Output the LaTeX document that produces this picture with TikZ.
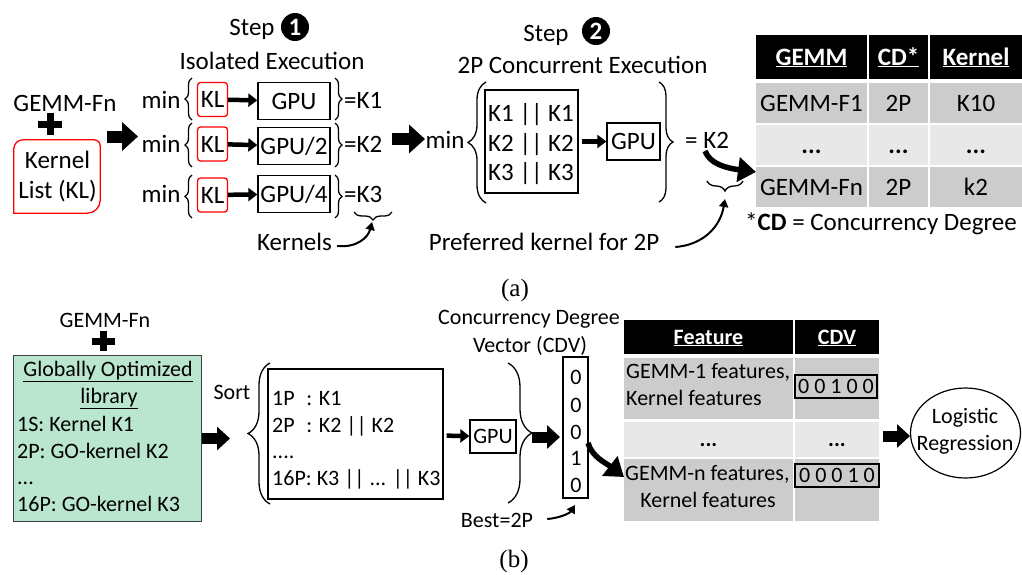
\documentclass[tikz,border=0pt]{standalone}
\usepackage{fontspec}
\setmainfont{Carlito}
\newfontfamily\serf{Liberation Serif}
\usetikzlibrary{arrows.meta,decorations.pathreplacing,shapes.geometric}
\newcommand\fa{\fontsize{25}{31}\selectfont}
\newcommand\fb{\fontsize{22}{27}\selectfont}
\definecolor{gD}{HTML}{CCCCCC}
\definecolor{gL}{HTML}{E8E8E8}
\definecolor{grn}{HTML}{BAE6CF}
\definecolor{bord}{HTML}{3F3F3F}
\begin{document}
\begin{tikzpicture}[x=1pt,y=-1pt,
  ta/.style={inner sep=0pt,font=\fa,text height=16pt,text depth=0pt},
  tb/.style={inner sep=0pt,font=\fb,text height=14pt,text depth=0pt},
  bx/.style={draw=black,line width=1.3pt,inner sep=0pt,font=\fa,text height=16pt,text depth=0pt},
  bxb/.style={draw=black,line width=1.3pt,inner sep=0pt,font=\fb,text height=14pt,text depth=0pt},
  rbx/.style={draw=red,line width=1.3pt,rounded corners=3pt,inner sep=0pt,font=\fa,text height=16pt,text depth=0pt,minimum width=30pt,minimum height=34pt},
  cella/.style={inner sep=0pt,text height=16pt,text depth=0pt},
  cellb/.style={inner sep=0pt,text height=14pt,text depth=0pt},
  hda/.style={cella,fill=black,text=white,font=\fa\bfseries},
  hdb/.style={cellb,fill=black,text=white,font=\fb\bfseries},
  blk/.style={line width=12pt,-{Triangle[length=16pt,width=28pt]}},
  blkb/.style={line width=11pt,-{Triangle[length=13pt,width=23pt]}},
  sml/.style={line width=4.5pt,-{Triangle[length=9pt,width=13pt]}},
  crv/.style={line width=2pt,-{Triangle[length=8pt,width=9pt]}},
  thk/.style={line width=5.5pt,-{Triangle[length=18pt,width=24pt]}},
  brc/.style={decorate,decoration={brace,amplitude=#1},line width=1.3pt},
  circ/.style={circle,fill=black,text=white,minimum size=28pt,inner sep=0pt,font=\fa\bfseries,text height=16pt,text depth=0pt}
]
\fill[white] (0,0) rectangle (1022,574);
\useasboundingbox (0,0) rectangle (1022,574);

% ================= (a) =================
\node[ta] (gemmA) at (65,103.5) {GEMM-Fn};
\fill (38,120.5) rectangle (62,128);
\fill (46.5,113) rectangle (54,135);
\node[minimum width=86pt,minimum height=73pt,inner sep=0pt] (kl) at (57,176.5) {};
\draw[red,line width=1.3pt] (kl.south west) [rounded corners=9pt] -- (kl.north west) [rounded corners=6pt] -- (kl.north east) [rounded corners=13pt] -- (kl.south east) [sharp corners] -- cycle;
\node[ta] (klt1) at (57.5,160) {Kernel};
\node[ta] (klt2) at (57.5,190.5) {List (KL)};

\coordinate (a1s) at (107,136.5);
\coordinate (a1e) at (138,136.5);
\draw[blk] (a1s) -- (a1e);

\node[ta] (step1) at (252,27.5) {Step};
\node[circ] (c1) at (295,27) {1};
\node[ta] (iso) at (272,61) {Isolated Execution};

% row 1
\node[ta] (min1) at (161,100) {min};
\draw[brc=7] (192,120) -- (192,78);
\node[rbx] (kl1) at (212.5,99.5) {KL};
\node[bx,minimum width=72pt,minimum height=37pt] (gpu1) at (294,101) {GPU};
\draw[sml] (kl1) -- (gpu1);
\draw[brc=7] (335,78) -- (335,120);
\node[ta,anchor=west] (k1) at (344,100) {=K1};
% row 2
\node[ta] (min2) at (161,144) {min};
\draw[brc=7] (192,167) -- (192,123);
\node[rbx] (kl2) at (212.5,144) {KL};
\node[bx,minimum width=72pt,minimum height=37pt] (gpu2) at (294,146) {GPU/2};
\draw[sml] (kl2) -- (gpu2);
\draw[brc=7] (335,123) -- (335,167);
\node[ta,anchor=west] (k2) at (344,144) {=K2};
% row 3
\node[ta] (min3) at (161,194) {min};
\draw[brc=7] (192,218) -- (192,175);
\node[rbx] (kl3) at (212.5,195) {KL};
\node[bx,minimum width=72pt,minimum height=37pt] (gpu3) at (294,194) {GPU/4};
\draw[sml] (kl3) -- (gpu3);
\draw[brc=7] (335,175) -- (335,218);
\node[ta,anchor=west] (k3) at (344,194) {=K3};

\draw[line width=1.3pt,decorate,decoration={brace,amplitude=8}] (392,212) -- (354,212);
\coordinate (ub1) at (372,222);
\node[ta] (kern) at (294.5,242) {Kernels};
\draw[crv] (kern.east) ++(5,4) .. controls (356,248) and (368,238) .. (ub1);

\coordinate (a2s) at (392,139);
\coordinate (a2e) at (425,139);
\draw[blk] (a2s) -- (a2e);

\node[ta] (step2) at (546,33) {Step};
\node[circ] (c2) at (596,31) {2};
\node[ta] (conc) at (582.5,65) {2P Concurrent Execution};

\node[ta] (minb) at (445,140) {min};
\draw[brc=18] (486,203) -- (486,82);
\node[bx,minimum width=93pt,minimum height=103pt] (kbox) at (531.5,141.5) {};
\node[ta,anchor=west] (kk1) at (488,113.5) {K1 || K1};
\node[ta,anchor=west] (kk2) at (488,143.5) {K2 || K2};
\node[ta,anchor=west] (kk3) at (488,172.5) {K3 || K3};
\node[bx,minimum width=53pt,minimum height=37pt] (gpuc) at (633.5,141.5) {GPU};
\draw[sml,shorten <=3pt] (kbox) -- (gpuc);
\draw[brc=14] (659,82) -- (659,202);
\node[ta,anchor=west] (eqk2) at (685,140.5) {= K2};

\draw[line width=1.3pt,decorate,decoration={brace,amplitude=10}] (743,181) -- (707,181);
\coordinate (ub2) at (725,199);
\node[ta] (pref) at (544,242) {Preferred kernel for 2P};
\draw[crv] (pref.east) ++(16,5) .. controls (702,245) and (720,228) .. (ub2);

\coordinate (th1s) at (705,151);
\coordinate (th1e) at (756,172);
\draw[thk] (th1s) .. controls (710,164) and (726,168) .. (th1e);

% table (a)
\node[hda,minimum width=111pt,minimum height=44pt] (ha1) at (811.5,57) {\underline{GEMM}};
\node[hda,minimum width=59pt,minimum height=44pt] (ha2) at (898.5,57) {\underline{CD*}};
\node[hda,minimum width=92pt,minimum height=44pt] (ha3) at (976,57) {\underline{Kernel}};
\node[cella,fill=gD,font=\fa,minimum width=111pt,minimum height=40pt] (a11) at (811.5,103) {GEMM-F1};
\node[cella,fill=gD,font=\fa,minimum width=59pt,minimum height=40pt] (a12) at (898.5,103) {2P};
\node[cella,fill=gD,font=\fa,minimum width=92pt,minimum height=40pt] (a13) at (976,103) {K10};
\node[cella,fill=gL,font=\fa\bfseries,minimum width=111pt,minimum height=40pt] (a21) at (811.5,145) {...};
\node[cella,fill=gL,font=\fa\bfseries,minimum width=59pt,minimum height=40pt] (a22) at (898.5,145) {...};
\node[cella,fill=gL,font=\fa\bfseries,minimum width=92pt,minimum height=40pt] (a23) at (976,145) {...};
\node[cella,fill=gD,font=\fa,minimum width=111pt,minimum height=40pt] (a31) at (811.5,187) {GEMM-Fn};
\node[cella,fill=gD,font=\fa,minimum width=59pt,minimum height=40pt] (a32) at (898.5,187) {2P};
\node[cella,fill=gD,font=\fa,minimum width=92pt,minimum height=40pt] (a33) at (976,187) {k2};
\node[ta,anchor=west] (cdn) at (745,222) {*\textbf{CD} = Concurrency Degree};

\node[inner sep=0pt,font=\serf\fontsize{25}{30}\selectfont,anchor=base] (capa) at (515,296) {(a)};

% ================= (b) =================
\node[tb] (gemmB) at (105,320) {GEMM-Fn};
\fill (92,337.5) rectangle (115,344.5);
\fill (99.5,331) rectangle (106.5,351);
\node[fill=grn,draw=bord,line width=1pt,minimum width=188pt,minimum height=166pt,inner sep=0pt] (glob) at (107,438) {};
\node[tb] (g1) at (108,369.5) {\underline{Globally Optimized}};
\node[tb] (g2) at (109,396) {\underline{library}};
\node[tb,anchor=west] (g3) at (17,424.5) {1S: Kernel K1};
\node[tb,anchor=west] (g4) at (17,451) {2P: GO-kernel K2};
\node[tb,anchor=west] (g5) at (17,477.5) {...};
\node[tb,anchor=west] (g6) at (17,504.5) {16P: GO-kernel K3};

\coordinate (b1s) at (202,438.5);
\coordinate (b1e) at (230,438.5);
\draw[blkb] (b1s) -- (b1e);
\node[tb] (sort) at (232,392.5) {Sort};
\draw[brc=22] (270,504) -- (270,363);
\node[bxb,minimum width=175pt,minimum height=130pt] (lbox) at (355.5,434) {};
\node[tb,anchor=west] (l1) at (272,398.5) {\makebox[1.55em][l]{1P}: K1};
\node[tb,anchor=west] (l2) at (272,425) {\makebox[1.55em][l]{2P}: K2 || K2};
\node[tb,anchor=west] (l3) at (272,451.5) {....};
\node[tb,anchor=west] (l4) at (272,478.5) {16P: K3 || ... || K3};
\node[bxb,minimum width=46pt,minimum height=33pt] (gpub) at (493,436.5) {GPU};
\draw[sml,shorten <=3pt] (lbox) -- (gpub);
\draw[brc=24] (508,363) -- (508,503);
\coordinate (b2s) at (532,437);
\coordinate (b2e) at (560,437);
\draw[blkb] (b2s) -- (b2e);
\node[tb] (cdv1) at (529,317) {Concurrency Degree};
\node[tb] (cdv2) at (530,345) {Vector (CDV)};
\node[bxb,minimum width=25pt,minimum height=141pt] (vec) at (575.5,427.5) {};
\node[tb] (d1) at (576,377) {0};
\node[tb] (d2) at (576,405) {0};
\node[tb] (d3) at (576,432) {0};
\node[tb] (d4) at (576,458.5) {1};
\node[tb] (d5) at (576,485.5) {0};
\node[tb] (best) at (497,520) {Best=2P};
\coordinate (bv) at (575,505);
\draw[crv] (best.east) ++(14,-1) .. controls (560,518) and (570,513) .. (bv);
\coordinate (th2s) at (588,443);
\coordinate (th2e) at (624,477);
\draw[thk] (th2s) .. controls (592,457) and (606,463) .. (th2e);

% table (b)
\node[hdb,minimum width=169pt,minimum height=34pt] (hb1) at (708.5,337) {\underline{Feature}};
\node[hdb,minimum width=84pt,minimum height=34pt] (hb2) at (837,337) {\underline{CDV}};
\node[cellb,fill=gD,minimum width=169pt,minimum height=61pt] (b11) at (708.5,388.5) {};
\node[cellb,fill=gD,minimum width=84pt,minimum height=61pt] (b12) at (837,388.5) {};
\node[cellb,fill=gL,font=\fb\bfseries,minimum width=169pt,minimum height=35pt] (b21) at (708.5,439.5) {...};
\node[cellb,fill=gL,font=\fb\bfseries,minimum width=84pt,minimum height=35pt] (b22) at (837,439.5) {...};
\node[cellb,fill=gD,minimum width=169pt,minimum height=62pt] (b31) at (708.5,490) {};
\node[cellb,fill=gD,minimum width=84pt,minimum height=62pt] (b32) at (837,490) {};
\node[tb,anchor=west] (f1) at (626,371.5) {GEMM-1 features,};
\node[tb,anchor=west] (f2) at (626,398.5) {Kernel features};
\node[tb,anchor=west] (f3) at (625,473.5) {GEMM-n features,};
\node[tb] (f4) at (708,500) {Kernel features};
\node[bxb,minimum width=82pt,minimum height=23pt] (v1) at (836,386.5) {0 0 1 0 0};
\node[bxb,minimum width=84pt,minimum height=23pt] (v2) at (837,475.5) {0 0 0 1 0};

\coordinate (b3s) at (883,436);
\coordinate (b3e) at (910,436);
\draw[blkb] (b3s) -- (b3e);
\node[draw,ellipse,line width=1.2pt,minimum width=110pt,minimum height=90pt,inner sep=0pt] (lr) at (965.5,433) {};
\node[tb] (lr1) at (965,416.5) {Logistic};
\node[tb] (lr2) at (965,443.5) {Regression};

\node[inner sep=0pt,font=\serf\fontsize{25}{30}\selectfont,anchor=base] (capb) at (514,567) {(b)};
\end{tikzpicture}
\end{document}
